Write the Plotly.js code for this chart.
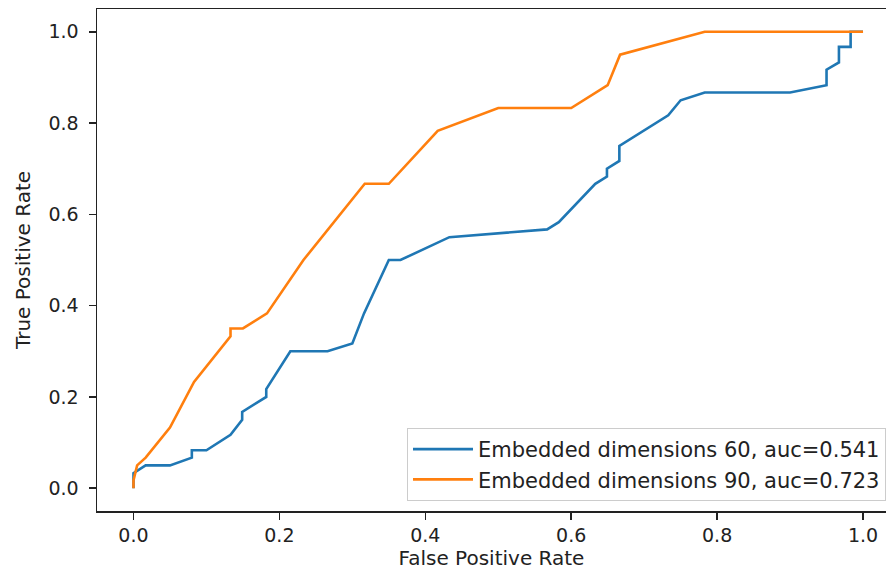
<!DOCTYPE html>
<html>
<head>
<meta charset="utf-8">
<script src="https://cdn.plot.ly/plotly-3.0.1.min.js"></script>
<style>html,body{margin:0;padding:0;background:#fff;}#chart{width:886px;height:570px;}</style>
</head>
<body>
<div id="chart"></div>
<script>
// FPR / TPR for "Embedded dimensions 60"
const fpr60 = [0, 0, 0.0167, 0.05, 0.08, 0.08, 0.1, 0.133, 0.149, 0.149, 0.182, 0.182, 0.215, 0.266, 0.30, 0.316, 0.35, 0.366, 0.433, 0.567, 0.583, 0.633, 0.649, 0.649, 0.666, 0.666, 0.733, 0.75, 0.783, 0.9, 0.95, 0.95, 0.967, 0.967, 0.983, 0.983, 1.0];
const tpr60 = [0, 0.033, 0.05, 0.05, 0.067, 0.083, 0.083, 0.117, 0.15, 0.167, 0.2, 0.217, 0.3, 0.3, 0.317, 0.383, 0.5, 0.5, 0.55, 0.567, 0.583, 0.667, 0.683, 0.7, 0.717, 0.75, 0.817, 0.85, 0.867, 0.867, 0.883, 0.917, 0.933, 0.967, 0.967, 1.0, 1.0];
// FPR / TPR for "Embedded dimensions 90"
const fpr90 = [0, 0, 0.005, 0.0167, 0.05, 0.083, 0.133, 0.133, 0.15, 0.183, 0.233, 0.317, 0.35, 0.417, 0.5, 0.6, 0.65, 0.667, 0.783, 1.0];
const tpr90 = [0, 0.017, 0.05, 0.067, 0.133, 0.233, 0.333, 0.35, 0.35, 0.383, 0.5, 0.667, 0.667, 0.783, 0.833, 0.833, 0.883, 0.95, 1.0, 1.0];

const seriesNames = ["Embedded dimensions 60, auc=0.541", "Embedded dimensions 90, auc=0.723"];
const tickVals = [0, 0.2, 0.4, 0.6, 0.8, 1.0];
const tickText = ["0.0", "0.2", "0.4", "0.6", "0.8", "1.0"];

const font = "DejaVu Sans, sans-serif";
const traces = [
  {x: fpr60, y: tpr60, mode: "lines", name: seriesNames[0], line: {color: "#1f77b4", width: 2.6}},
  {x: fpr90, y: tpr90, mode: "lines", name: seriesNames[1], line: {color: "#ff7f0e", width: 2.6}}
];
const axisCommon = {
  showgrid: false, zeroline: false, showline: true, linecolor: "#222", linewidth: 1.5,
  ticks: "outside", ticklen: 7, tickwidth: 1.5, tickcolor: "#222",
  tickvals: tickVals, ticktext: tickText,
  tickfont: {family: font, size: 19, color: "#222"}
};
const layout = {
  width: 886, height: 570,
  margin: {l: 97, r: 0, t: 9, b: 59},
  paper_bgcolor: "#fff", plot_bgcolor: "#fff",
  showlegend: true,
  xaxis: Object.assign({}, axisCommon, {
    range: [-0.05, 1.0315], mirror: true, ticklabelstandoff: 0,
    title: {text: "False Positive Rate", font: {family: font, size: 20, color: "#222"}, standoff: 4}
  }),
  yaxis: Object.assign({}, axisCommon, {
    range: [-0.05, 1.05], ticklabelstandoff: 6,
    title: {text: "True Positive Rate", font: {family: font, size: 20, color: "#222"}, standoff: 12}
  }),
  legend: {
    x: 1, xanchor: "right", y: 0.02, yanchor: "bottom",
    bgcolor: "rgba(255,255,255,0.8)", bordercolor: "#cccccc", borderwidth: 1,
    itemwidth: 60,
    font: {family: font, size: 21, color: "#222"}
  }
};
Plotly.newPlot("chart", traces, layout, {staticPlot: true, displayModeBar: false});
</script>
</body>
</html>
